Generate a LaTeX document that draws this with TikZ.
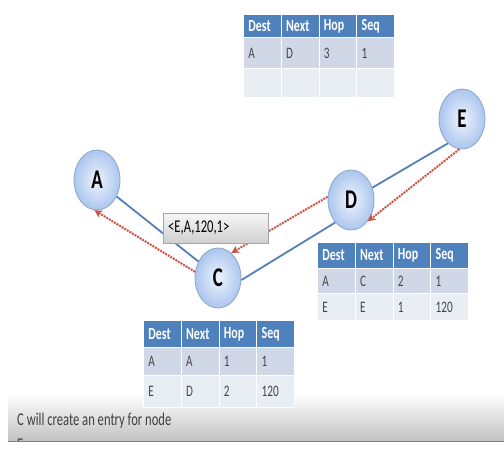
\documentclass[tikz,border=0pt]{standalone}
\usepackage{fontspec}
\setmainfont[FakeStretch=0.7]{Carlito}
\usetikzlibrary{shapes.geometric,arrows.meta}

\definecolor{hdrblue}{RGB}{79,129,189}
\definecolor{rowa}{RGB}{208,216,232}
\definecolor{rowb}{RGB}{233,237,244}
\definecolor{linkblue}{RGB}{84,128,182}
\definecolor{rreqred}{RGB}{205,82,72}
\definecolor{nodeedge}{RGB}{140,165,205}
\definecolor{nodein}{RGB}{238,243,253}
\definecolor{nodeout}{RGB}{172,198,238}
\definecolor{celltext}{RGB}{70,70,70}

\tikzset{
  host/.style={ellipse, minimum width=46pt, minimum height=60pt, inner sep=0pt,
    draw=nodeedge, line width=0.8pt, inner color=nodein, outer color=nodeout,
    font=\fontsize{27}{27}\selectfont\bfseries},
  link/.style={draw=linkblue, line width=1.8pt},
  rreq/.style={draw=rreqred, line width=2pt, densely dotted, -{Stealth[length=8pt,width=8pt]}},
  cell/.style={anchor=north west, draw=white, line width=0.8pt, minimum width=37.75pt,
    text width=27.75pt, inner xsep=5pt, inner ysep=0pt, align=left},
  hcell/.style={cell, fill=hdrblue, text=white, font=\fontsize{17}{17}\selectfont\bfseries},
  acell/.style={cell, fill=rowa, text=celltext, font=\fontsize{16}{16}\selectfont},
  bcell/.style={cell, fill=rowb, text=celltext, font=\fontsize{16}{16}\selectfont},
  msgbox/.style={anchor=north west, draw=gray!70, top color=gray!6, bottom color=gray!38,
    minimum width=105pt, minimum height=30pt, text width=95pt, inner xsep=5pt,
    align=left, font=\fontsize{18}{18}\selectfont},
  note/.style={anchor=west, text=black!75, inner sep=0pt, font=\fontsize{18}{18}\selectfont}
}

\begin{document}
\begin{tikzpicture}[x=1pt,y=-1pt]
\useasboundingbox[fill=white] (0,0) rectangle (504,448);

% bottom caption band
\shade[top color=white, bottom color=black!24] (8,393) rectangle (504,441);

% hosts
\node[host] (A) at (97,180) {A};
\node[host] (C) at (218,278) {C};
\node[host] (D) at (351,200) {D};
\node[host] (E) at (462,119) {E};

% links
\draw[link] (A.-40) -- (C.140);
\draw[link] (C.-5) -- (D.-125);
\draw[link] (D.30) -- (E.-120);

% route request forwarding
\draw[rreq] (C.165) -- (A.-95);
\draw[rreq] (D.172) -- (C.62);
\draw[rreq] (E.-95) -- (D.-52);

% forwarded packet
\node[msgbox] (msg) at (163,213) {<E,A,120,1>};

% routing table at A
\foreach \t [count=\k] in {Dest,Next,Hop,Seq}
  \node[hcell, minimum height=23pt] (ta-h\k) at (243+37.75*\k-37.75,14) {\t};
\foreach \t [count=\k] in {A,D,3,1}
  \node[acell, minimum height=31pt] (ta-a\k) at (243+37.75*\k-37.75,37) {\t};
\foreach \k in {1,...,4}
  \node[bcell, minimum height=29pt] (ta-b\k) at (243+37.75*\k-37.75,68) {};

% routing table at D
\foreach \t [count=\k] in {Dest,Next,Hop,Seq}
  \node[hcell, minimum height=26pt] (td-h\k) at (317+37.75*\k-37.75,242) {\t};
\foreach \t [count=\k] in {A,C,2,1}
  \node[acell, minimum height=25pt] (td-a\k) at (317+37.75*\k-37.75,268) {\t};
\foreach \t [count=\k] in {E,E,1,120}
  \node[bcell, minimum height=27pt] (td-b\k) at (317+37.75*\k-37.75,293) {\t};

% routing table at C
\foreach \t [count=\k] in {Dest,Next,Hop,Seq}
  \node[hcell, minimum height=27pt] (tc-h\k) at (143+37.75*\k-37.75,320) {\t};
\foreach \t [count=\k] in {A,A,1,1}
  \node[acell, minimum height=28pt] (tc-a\k) at (143+37.75*\k-37.75,347) {\t};
\foreach \t [count=\k] in {E,D,2,120}
  \node[bcell, minimum height=32pt] (tc-b\k) at (143+37.75*\k-37.75,375) {\t};

% caption
\begin{scope}
  \clip (0,0) rectangle (504,440.5);
  \node[note] (cap1) at (17,421) {C will create an entry for node};
  \node[note] (cap2) at (17,445) {E};
\end{scope}
\draw[rreqred!90, line width=1pt] (8,441) -- (504,441);
\end{tikzpicture}
\end{document}
